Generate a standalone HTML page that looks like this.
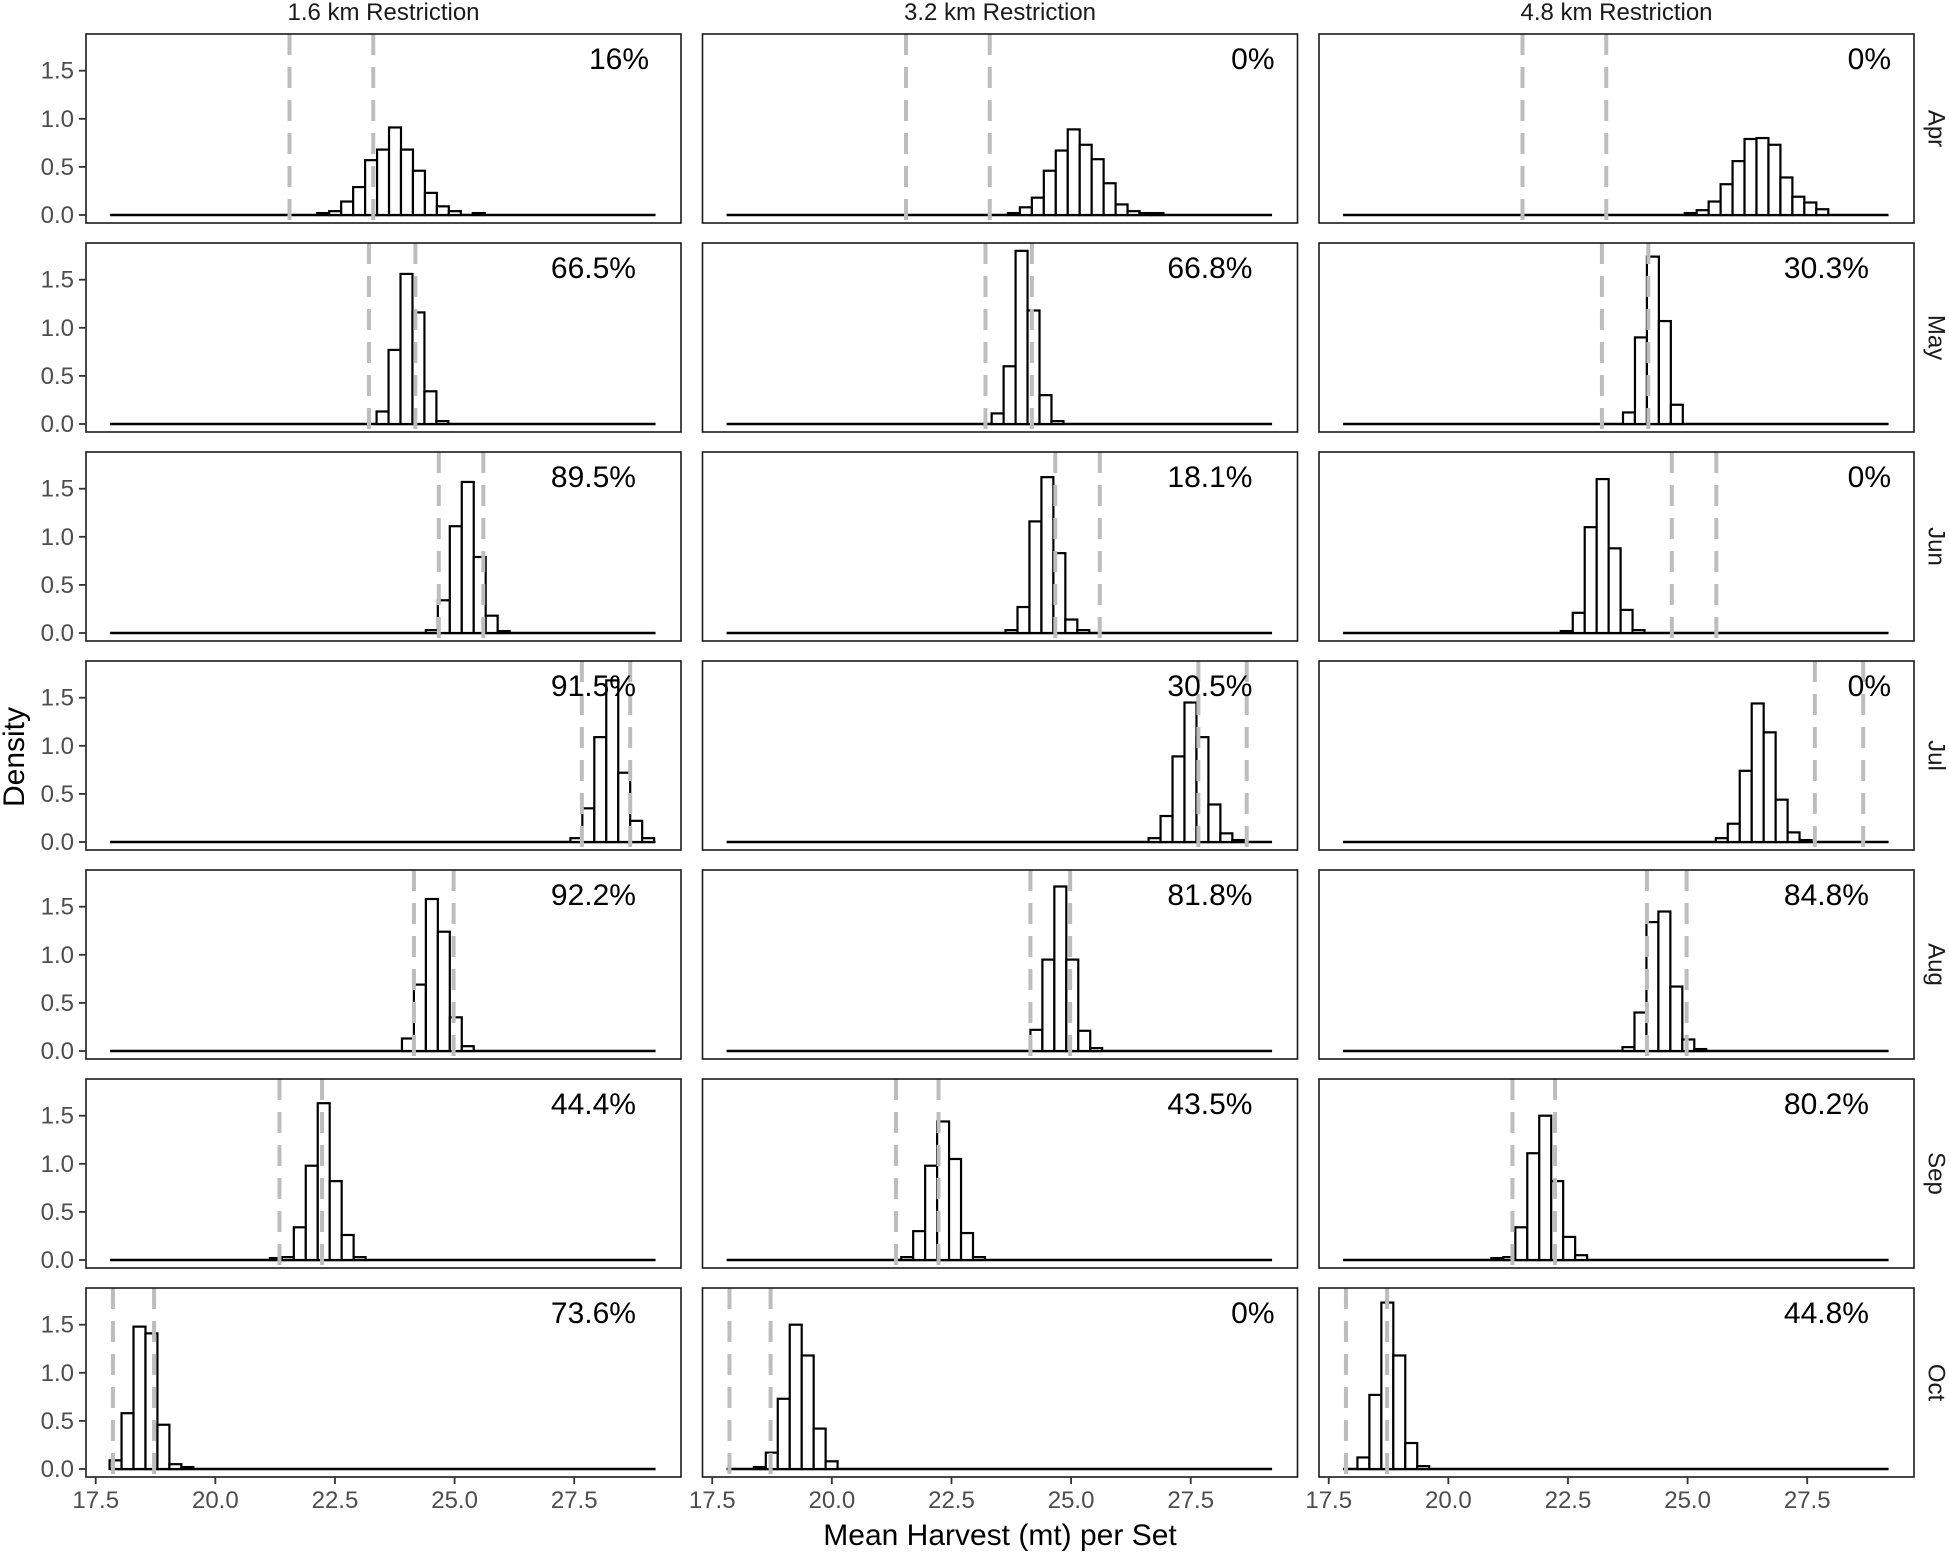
<!DOCTYPE html>
<html><head><meta charset="utf-8">
<style>
html,body{margin:0;padding:0;background:#fff;}
svg{display:block;font-family:"Liberation Sans",Arial,sans-serif;}
</style></head>
<body>
<svg id="chart" width="1949" height="1553" viewBox="0 0 1949 1553" xmlns="http://www.w3.org/2000/svg"></svg>
<script>
const columns = ["1.6 km Restriction", "3.2 km Restriction", "4.8 km Restriction"];
const months = ["Apr", "May", "Jun", "Jul", "Aug", "Sep", "Oct"];
const xTicks = [17.5, 20.0, 22.5, 25.0, 27.5];
const yTicks = [0.0, 0.5, 1.0, 1.5];
const binWidth = 0.25;
const dashLo = [21.55, 23.21, 24.67, 27.66, 24.15, 21.34, 17.86];
const dashHi = [23.30, 24.18, 25.60, 28.67, 24.98, 22.23, 18.72];
const percents = [
  ["16%", "0%", "0%"],
  ["66.5%", "66.8%", "30.3%"],
  ["89.5%", "18.1%", "0%"],
  ["91.5%", "30.5%", "0%"],
  ["92.2%", "81.8%", "84.8%"],
  ["44.4%", "43.5%", "80.2%"],
  ["73.6%", "0%", "44.8%"]
];
const binStarts = [
  [22.13, 23.68, 24.94],
  [23.37, 23.34, 23.65],
  [24.40, 23.63, 22.35],
  [27.42, 26.62, 25.59],
  [23.90, 24.15, 23.64],
  [21.14, 21.45, 20.90],
  [17.79, 18.37, 18.10]
];
const densities = [
  [[0.02,0.04,0.14,0.29,0.57,0.68,0.91,0.68,0.46,0.23,0.09,0.04,0.0,0.02],
   [0.02,0.08,0.18,0.46,0.67,0.89,0.73,0.58,0.33,0.11,0.04,0.02,0.02],
   [0.02,0.05,0.14,0.32,0.56,0.79,0.80,0.73,0.39,0.19,0.13,0.06]],
  [[0.13,0.77,1.56,1.16,0.34,0.03],
   [0.11,0.60,1.80,1.18,0.30,0.03],
   [0.12,0.90,1.74,1.07,0.20]],
  [[0.03,0.34,1.11,1.57,0.79,0.18,0.02],
   [0.03,0.27,1.16,1.62,0.83,0.14,0.03],
   [0.02,0.21,1.10,1.60,0.88,0.24,0.03]],
  [[0.04,0.35,1.09,1.68,0.72,0.22,0.04],
   [0.04,0.27,0.89,1.45,1.09,0.39,0.09,0.02],
   [0.04,0.19,0.74,1.44,1.14,0.44,0.10,0.02]],
  [[0.13,0.69,1.58,1.24,0.35,0.05],
   [0.22,0.95,1.71,0.95,0.21,0.03],
   [0.04,0.40,1.34,1.45,0.67,0.12,0.02]],
  [[0.02,0.03,0.34,0.98,1.63,0.82,0.26,0.03],
   [0.03,0.30,0.98,1.44,1.05,0.28,0.03],
   [0.02,0.03,0.34,1.11,1.50,0.82,0.24,0.05]],
  [[0.09,0.58,1.48,1.41,0.46,0.05,0.02],
   [0.02,0.17,0.73,1.50,1.18,0.42,0.08],
   [0.12,0.77,1.73,1.18,0.27,0.03]]
];
const baselineRange = [17.8, 29.2];

const NS = "http://www.w3.org/2000/svg";
const svg = document.getElementById("chart");
const colLeft = [86, 702.5, 1319];
const panelW = 595, panelTop0 = 34, rowPitch = 209, panelH = 189;
const xMin = 17.297, pxPerUnit = 47.85;
const zeroOffset = 181, pxPerDens = 96.2;

function mk(tag, attrs, parent) {
  const e = document.createElementNS(NS, tag);
  for (const k in attrs) e.setAttribute(k, attrs[k]);
  (parent || svg).appendChild(e);
  return e;
}
function xScale(c, v) { return colLeft[c] + (v - xMin) * pxPerUnit; }
function yScale(r, d) { return panelTop0 + r * rowPitch + zeroOffset - d * pxPerDens; }
function labelInset(s) { return s.length >= 5 ? 45 : (s.length === 3 ? 32 : 23); }

columns.forEach((t, c) => {
  const e = mk("text", {x: colLeft[c] + panelW / 2, y: 20, "text-anchor": "middle", "font-size": 24, fill: "#1a1a1a"});
  e.textContent = t;
  
  
});

for (let r = 0; r < months.length; r++) {
  const top = panelTop0 + r * rowPitch;
  const sx = 1935, sy = top + panelH / 2;
  const lab = mk("text", {x: sx, y: sy, "text-anchor": "middle", "font-size": 24, fill: "#1a1a1a", transform: `rotate(90 ${sx} ${sy})`, "dominant-baseline": "middle"});
  lab.textContent = months[r];
  
  

  for (let c = 0; c < columns.length; c++) {
    const g = mk("g", {});
    
    
    mk("rect", {x: colLeft[c], y: top, width: panelW, height: panelH, fill: "#fff"}, g);
    const bl = mk("line", {x1: xScale(c, baselineRange[0]), x2: xScale(c, baselineRange[1]), y1: yScale(r, 0), y2: yScale(r, 0), stroke: "#000", "stroke-width": 2.6}, g);
    
    
    densities[r][c].forEach((d, i) => {
      const x0 = xScale(c, binStarts[r][c] + i * binWidth);
      const x1 = xScale(c, binStarts[r][c] + (i + 1) * binWidth);
      const y0 = yScale(r, d), yb = yScale(r, 0);
      const b = mk("rect", {x: x0, y: y0, width: x1 - x0, height: Math.max(0, yb - y0), fill: "#fff", stroke: "#000", "stroke-width": 2.2}, g);
      
      
    });
    [dashLo[r], dashHi[r]].forEach(v => {
      const dl = mk("line", {x1: xScale(c, v), x2: xScale(c, v), y1: top, y2: top + panelH, stroke: "#bdbdbd", "stroke-width": 4, "stroke-dasharray": "21 12"}, g);
      
      
    });
    mk("rect", {x: colLeft[c], y: top, width: panelW, height: panelH, fill: "none", stroke: "#1a1a1a", "stroke-width": 1.6}, g);
    const pl = mk("text", {x: colLeft[c] + panelW - labelInset(percents[r][c]), y: top + 35, "text-anchor": "end", "font-size": 30, fill: "#000"}, g);
    pl.textContent = percents[r][c];
    
    
    if (c === 0) {
      yTicks.forEach(t => {
        const y = yScale(r, t);
        mk("line", {x1: colLeft[c] - 7, x2: colLeft[c], y1: y, y2: y, stroke: "#333", "stroke-width": 1.8}, g);
        const tl = mk("text", {x: colLeft[c] - 12, y: y + 8, "text-anchor": "end", "font-size": 24, fill: "#4d4d4d"}, g);
        tl.textContent = t.toFixed(1);
        
        
      });
    }
    if (r === months.length - 1) {
      xTicks.forEach(t => {
        const x = xScale(c, t), yb = top + panelH;
        mk("line", {x1: x, x2: x, y1: yb, y2: yb + 7, stroke: "#333", "stroke-width": 1.8}, g);
        const tl = mk("text", {x: x, y: yb + 31, "text-anchor": "middle", "font-size": 24, fill: "#4d4d4d"}, g);
        tl.textContent = t.toFixed(1);
        
        
      });
    }
  }
}
const xt = mk("text", {x: 1000, y: 1545, "text-anchor": "middle", "font-size": 30, fill: "#000"});
xt.textContent = "Mean Harvest (mt) per Set";


const yt = mk("text", {x: 24, y: 757, "text-anchor": "middle", "font-size": 30, fill: "#000", transform: "rotate(-90 24 757)"});
yt.textContent = "Density";


</script>
</body></html>
